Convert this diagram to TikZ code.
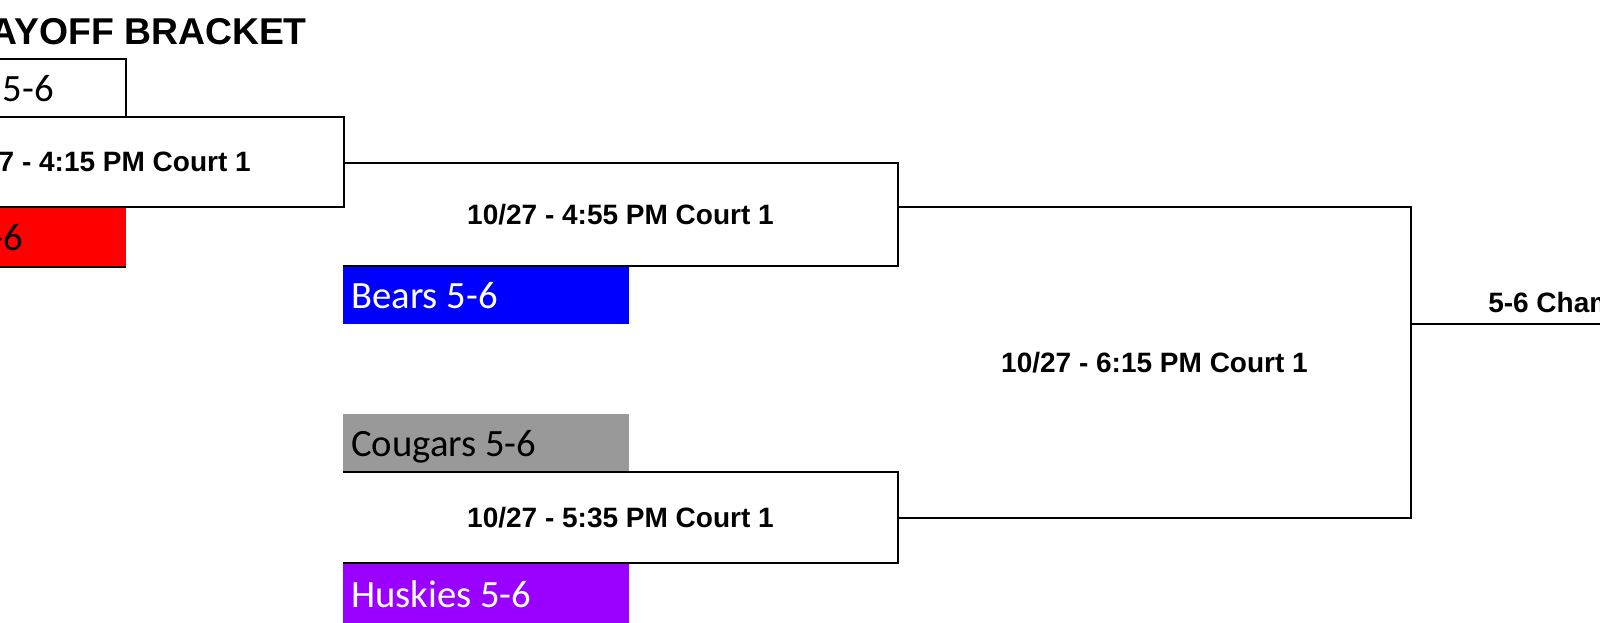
\documentclass[tikz,border=0pt]{standalone}
\usepackage{fontspec}
\setmainfont{Liberation Sans}
\newfontfamily\teamfont{Carlito}
\definecolor{teamred}{HTML}{FF0000}
\definecolor{teamblue}{HTML}{0000FF}
\definecolor{teamgray}{HTML}{999999}
\definecolor{teampurple}{HTML}{9900FF}
\begin{document}
\begin{tikzpicture}[x=0.75pt,y=-0.75pt,
  bline/.style={draw=black,line width=1.6pt,line join=miter},
  teamtxt/.style={inner sep=0pt,font=\teamfont\fontsize{29}{32}\selectfont},
  gametxt/.style={inner sep=0pt,anchor=base,font=\bfseries\fontsize{21}{24}\selectfont},
  titletxt/.style={inner sep=0pt,anchor=base east,font=\bfseries\fontsize{28}{32}\selectfont}]
\useasboundingbox (0,0) rectangle (1600,623);
\clip (0,0) rectangle (1600,623);
\fill[white] (0,0) rectangle (1600,623);

% team cells
\fill[teamred] (-5,207) rectangle (126,267);
\fill[teamblue] (343,266) rectangle (629,324);
\fill[teamgray] (343,414) rectangle (629,472);
\fill[teampurple] (343,563) rectangle (629,630);

% named corners
\coordinate (t1a) at (-5,59);
\coordinate (t1b) at (126,59);
\coordinate (t1c) at (126,117);
\coordinate (g1nw) at (-5,117);
\coordinate (g1ne) at (344,117);
\coordinate (g1se) at (344,207);
\coordinate (g1sw) at (-5,207);
\coordinate (redsw) at (-5,267);
\coordinate (redse) at (126,267);
\coordinate (g1out) at (344,163);
\coordinate (g2ne) at (898,163);
\coordinate (g2se) at (898,266);
\coordinate (g2sw) at (343,266);
\coordinate (g2out) at (898,207);
\coordinate (g3ne) at (1411,207);
\coordinate (g3se) at (1411,518);
\coordinate (g4out) at (898,518);
\coordinate (g4nw) at (343,472);
\coordinate (g4ne) at (898,472);
\coordinate (g4se) at (898,563);
\coordinate (g4sw) at (343,563);
\coordinate (g3out) at (1411,324);
\coordinate (finalend) at (1610,324);

% bracket lines
\draw[bline] (t1a) -- (t1b) -- (t1c);
\draw[bline] (g1nw) -- (g1ne) -- (g1se) -- (g1sw);
\draw[bline] (redsw) -- (redse);
\draw[bline] (g1out) -- (g2ne) -- (g2se) -- (g2sw);
\draw[bline] (g2out) -- (g3ne) -- (g3se) -- (g4out);
\draw[bline] (g4nw) -- (g4ne) -- (g4se) -- (g4sw);
\draw[bline] (g3out) -- (finalend);

% texts
\node[titletxt] (title) at (307,45) {AYOFF BRACKET};
\node[teamtxt,anchor=base west] (team1) at (2.3,102) {5-6};
\node[teamtxt,anchor=base east,text=black] (team2) at (23,251) {-6};
\node[teamtxt,anchor=base west,text=white] (team3) at (351,309) {Bears 5-6};
\node[teamtxt,anchor=base west,text=black] (team4) at (351,457) {Cougars 5-6};
\node[teamtxt,anchor=base west,text=white] (team5) at (351,607) {Huskies 5-6};
\node[gametxt,anchor=base east] (game1) at (251,172) {7 - 4:15 PM Court 1};
\node[gametxt] (game2) at (620.5,225) {10/27 - 4:55 PM Court 1};
\node[gametxt] (game4) at (620.5,527.5) {10/27 - 5:35 PM Court 1};
\node[gametxt] (game3) at (1154.5,372.5) {10/27 - 6:15 PM Court 1};
\node[gametxt,anchor=base west] (champ) at (1488,313) {5-6 Cham};
\end{tikzpicture}
\end{document}
